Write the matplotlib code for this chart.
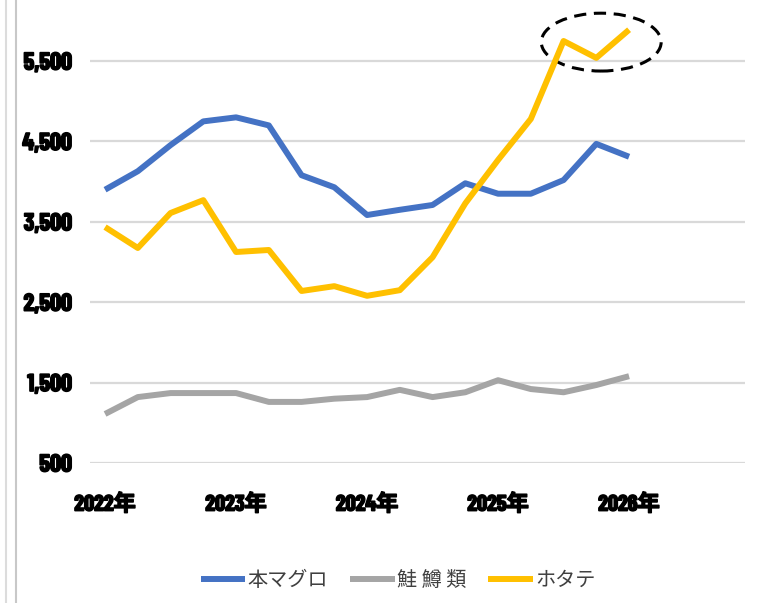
import matplotlib
matplotlib.use("Agg")
import matplotlib.pyplot as plt
from matplotlib.patches import Ellipse
from matplotlib.lines import Line2D
import matplotlib.patheffects as pe

# quarterly values, 2022 Q1 .. 2026 Q1
quarters = list(range(17))
maguro = [3900, 4130, 4455, 4750, 4800, 4700, 4080, 3930, 3585, 3650, 3710,
          3980, 3850, 3850, 4020, 4470, 4310]
sake = [1110, 1320, 1370, 1370, 1370, 1260, 1260, 1300, 1320, 1410, 1320,
        1380, 1530, 1420, 1380, 1470, 1580]
hotate = [3435, 3175, 3610, 3770, 3125, 3150, 2640, 2700, 2580, 2650, 3060,
          3730, 4270, 4780, 5750, 5540, 5890]
year_pos = [0, 4, 8, 12, 16]
year_labels = ["2022年", "2023年", "2024年", "2025年", "2026年"]
yticks = [500, 1500, 2500, 3500, 4500, 5500]
series_names = ["本マグロ", "鮭 鱒 類", "ホタテ"]
colors = ["#4472C4", "#A5A5A5", "#FFC000"]

# narrow bold face for the tick labels, falls through to CJK for 年
bold_fam = ["Liberation Sans Narrow", "Barlow Condensed", "DejaVu Sans", "Noto Sans CJK JP"]
plt.rcParams["font.family"] = ["Noto Sans CJK JP", "DejaVu Sans"]

fig = plt.figure(figsize=(7.57, 6.03), dpi=100)
ax = fig.add_axes([90 / 757, 1 - 463 / 603, 655 / 757, 463 / 603])

for vals, name, c in zip([maguro, sake, hotate], series_names, colors):
    ax.plot(quarters, vals, color=c, lw=4.3, label=name, solid_capstyle="butt")

ax.set_xlim(-0.46, 19.54)
ax.set_ylim(500, 6260)
ax.set_yticks(yticks)
ax.set_yticklabels([f"{v:,}" for v in yticks])
ax.set_xticks(year_pos)
ax.set_xticklabels(year_labels)
ax.grid(axis="y", color="#d9d9d9", lw=1.6)
ax.set_axisbelow(True)
for s in ax.spines.values():
    s.set_visible(False)
ax.tick_params(length=0)
ax.tick_params(axis="y", pad=13)
ax.tick_params(axis="x", pad=22)
for lab in ax.get_yticklabels():
    lab.set_fontsize(17.5)
for lab in ax.get_xticklabels():
    lab.set_fontsize(16)
for lab in ax.get_yticklabels() + ax.get_xticklabels():
    lab.set_family(bold_fam)
    lab.set_fontweight("bold")
    lab.set_fontstretch("condensed")
    lab.set_path_effects([pe.withStroke(linewidth=1.1, foreground="black")])

# dashed ellipse around latest scallop values
ell = Ellipse((15.15, 5736), 3.66, 720, fill=False, ls=(0, (4, 2.5)),
              lw=2.2, ec="black", clip_on=False)
ax.add_patch(ell)

fig.legend(loc="center", bbox_to_anchor=(0.526, 0.038), ncol=3, frameon=False,
           fontsize=14.5, handlelength=2.2, handletextpad=0.12, columnspacing=1.1,
           labelcolor="#404040")

# left border lines
fig.add_artist(Line2D([6 / 757, 6 / 757], [0, 1], color="#dcdcdc", lw=1.5))
fig.add_artist(Line2D([16 / 757, 16 / 757], [0, 1], color="#c8c8c8", lw=1.5))

fig.savefig("out.png", dpi=100, facecolor="white")
